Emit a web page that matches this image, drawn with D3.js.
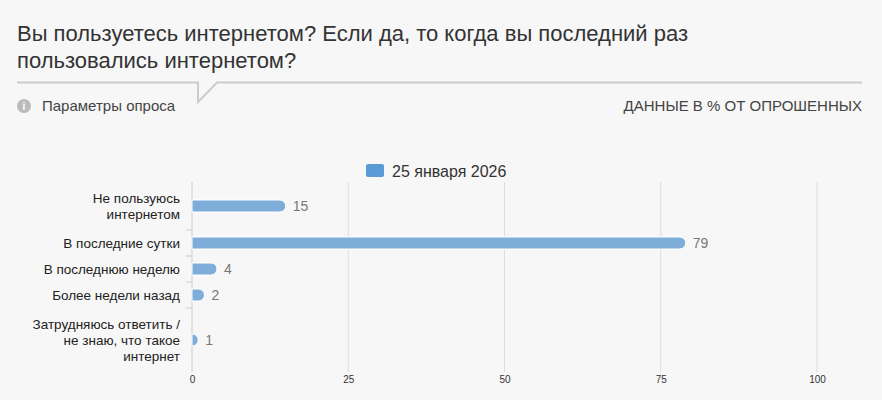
<!DOCTYPE html><html><head><meta charset="utf-8"><script src="https://cdn.jsdelivr.net/npm/d3@7"></script>
<style>body{margin:0;background:#f7f7f7;font-family:"Liberation Sans",Arial,sans-serif}</style></head><body>
<svg id="c" width="882" height="400"></svg>
<script>
const categories=[["Не пользуюсь","интернетом"],["В последние сутки"],["В последнюю неделю"],["Более недели назад"],["Затрудняюсь ответить /","не знаю, что такое","интернет"]];
const values=[15,79,4,2,1];
const ticks=[0,25,50,75,100];
const seriesName="25 января 2026";
const svg=d3.select("#c");
svg.append("text").attr("x",17).attr("y",41).attr("font-size",22).attr("fill","#333").text("Вы пользуетесь интернетом? Если да, то когда вы последний раз");
svg.append("text").attr("x",17).attr("y",68).attr("font-size",22).attr("fill","#333").text("пользовались интернетом?");
svg.append("path").attr("d","M17,82.5H198V102L217,82.5H862").attr("fill","none").attr("stroke","#ccc").attr("stroke-width",2);
svg.append("circle").attr("cx",24).attr("cy",106).attr("r",7).attr("fill","#bbb");
svg.append("text").attr("x",24).attr("y",110).attr("text-anchor","middle").attr("font-size",10).attr("font-weight","bold").attr("fill","#fff").text("i");
svg.append("text").attr("x",42).attr("y",111).attr("font-size",15).attr("fill","#444").text("Параметры опроса");
svg.append("text").attr("x",862).attr("y",111).attr("text-anchor","end").attr("font-size",15).attr("fill","#444").text("ДАННЫЕ В % ОТ ОПРОШЕННЫХ");
svg.append("rect").attr("x",366).attr("y",164).attr("width",18).attr("height",13).attr("rx",2).attr("fill","#5b9bd5");
svg.append("text").attr("x",392).attr("y",177).attr("font-size",16).attr("fill","#333").text(seriesName);
const x=d3.scaleLinear().domain([0,100]).range([192,817]);
const top0=182;let pos=[],y0=top0;
categories.forEach(c=>{const h=c.length==1?26:c.length*16+16;pos.push({y:y0,h});y0+=h;});
const bottom=y0;
svg.append("g").selectAll("line").data(ticks.slice(1)).join("line").attr("x1",d=>x(d)).attr("x2",d=>x(d)).attr("y1",top0).attr("y2",bottom).attr("stroke","#ddd");
const ax=svg.append("g").attr("transform",`translate(0,${bottom})`).call(d3.axisBottom(x).tickValues(ticks).tickSize(0).tickPadding(4));
ax.select(".domain").remove();ax.selectAll("text").attr("font-size",10).attr("fill","#333").attr("font-family","Liberation Sans,Arial");
svg.append("line").attr("x1",192).attr("x2",192).attr("y1",top0).attr("y2",bottom).attr("stroke","#ccc");
svg.append("g").selectAll("line").data(pos.slice(1)).join("line").attr("x1",186).attr("x2",192).attr("y1",d=>d.y).attr("y2",d=>d.y).attr("stroke","#ccc");
const g=svg.append("g");
categories.forEach((c,i)=>{const cy=pos[i].y+pos[i].h/2;
 const t=g.append("text").attr("text-anchor","end").attr("font-size",13.5).attr("fill","#222");
 c.forEach((l,j)=>t.append("tspan").attr("x",180).attr("y",cy+5+(j-(c.length-1)/2)*16).text(l));
 const w=x(values[i])-x(0);
 g.append("path").attr("d",`M192,${cy-6}H${192+w-6}A6,6 0 0 1 ${192+w-6},${cy+6}H192Z`).attr("fill","#7fadd9").attr("stroke","#fff").attr("stroke-width",1);
 g.append("text").attr("x",192+w+7).attr("y",cy+5).attr("font-size",14).attr("fill","#777").text(values[i]);
});
</script></body></html>
